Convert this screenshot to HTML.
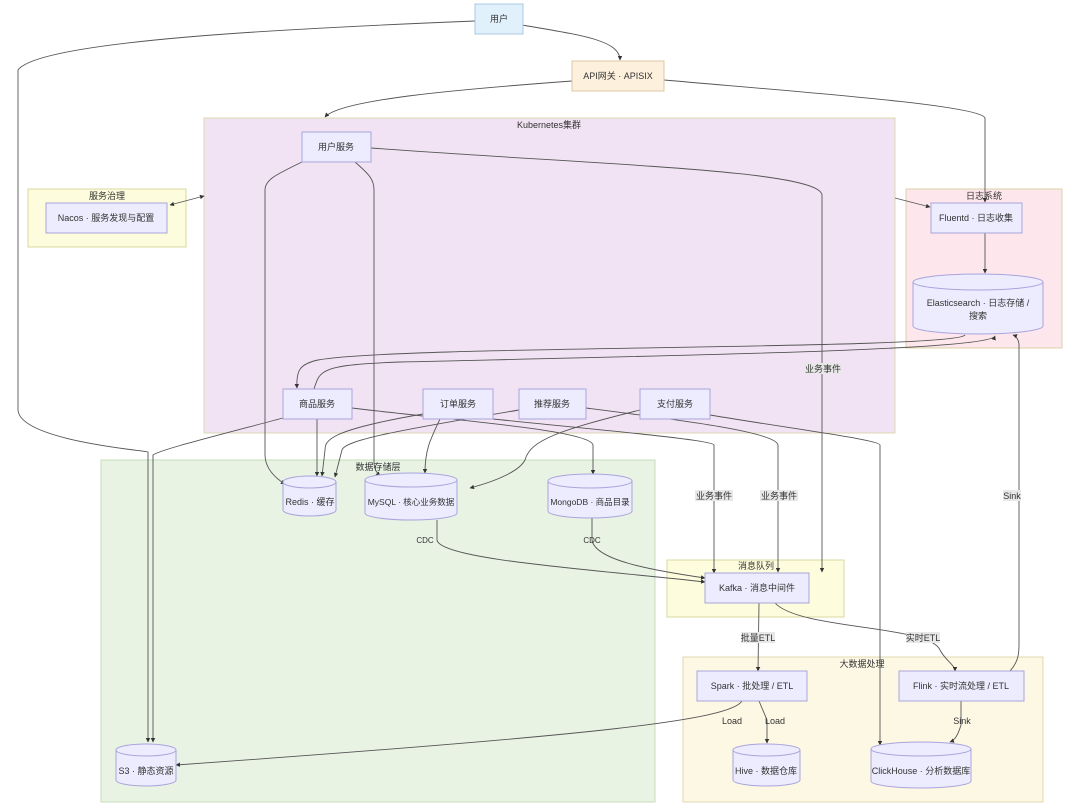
<!DOCTYPE html>
<html><head><meta charset="utf-8"><style>
html,body{margin:0;padding:0;background:#fff;}
svg{display:block;}
text{font-family:"Liberation Sans","Noto Sans CJK SC",sans-serif;font-size:9px;fill:#333;}
.n{fill:#ececfe;stroke:#a9a4dc;stroke-width:1;}
.e{fill:none;stroke:#555;stroke-width:0.9;}
.lb{fill:#e8e8e8;}
</style></head><body>
<svg width="1080" height="806" viewBox="0 0 1080 806" xmlns="http://www.w3.org/2000/svg">
<defs><marker id="a" viewBox="0 0 10 10" refX="9" refY="5" markerWidth="5" markerHeight="5" orient="auto-start-reverse"><path d="M0,0L10,5L0,10z" fill="#333"/></marker></defs>
<!-- clusters -->
<rect x="204" y="118" width="691" height="315" fill="#f1e3f3" stroke="#dcd8b0"/>
<text x="549" y="128" text-anchor="middle">Kubernetes集群</text>
<rect x="28" y="189" width="158" height="58" fill="#fdfddd" stroke="#d8d8a0"/>
<text x="107" y="199" text-anchor="middle">服务治理</text>
<rect x="906" y="189" width="156" height="159" fill="#fde6ec" stroke="#ddd0a8"/>
<text x="984" y="199" text-anchor="middle">日志系统</text>
<rect x="101" y="460" width="554" height="342" fill="#e8f3e4" stroke="#c8dcb8"/>
<text x="378" y="470" text-anchor="middle">数据存储层</text>
<rect x="667" y="560" width="177" height="57" fill="#fdfddd" stroke="#d8d8a0"/>
<text x="756" y="569" text-anchor="middle">消息队列</text>
<rect x="683" y="657" width="360" height="145" fill="#fdf8e4" stroke="#e0d8b0"/>
<text x="862" y="667" text-anchor="middle">大数据处理</text>
<!-- edges -->
<g class="e" marker-end="url(#a)">
<path d="M522,25 C580,35 620,40 620,60"/>
<path d="M475,21 C300,28 40,40 18,70 L18,410 C20,440 140,450 148,452 L148,742"/>
<path d="M572,81 C450,90 340,100 325,117"/>
<path d="M664,80 C800,92 980,105 985,118 L985,202"/>
<path d="M895,198 L930,207"/>
<path d="M204,196 L170,205" marker-start="url(#a)"/>
<path d="M302,162 C275,175 265,180 265,190 L265,455 C265,468 275,478 285,484"/>
<path d="M355,162 C370,175 374,180 374,190 L374,462 C374,470 378,474 380,476"/>
<path d="M371,148 C600,165 820,170 822,195 L822,572"/>
<path d="M985,233 L985,273"/>
<path d="M965,335 C955,350 400,345 318,360 C300,364 296,370 297,388"/>
<path d="M314,389 C320,370 320,365 400,362 C700,355 990,350 995,336"/>
<path d="M283,418 C200,440 160,450 153,455 L153,742"/>
<path d="M317,419 L317,476"/>
<path d="M352,408 C450,420 590,430 593,445 L593,474"/>
<path d="M423,414 C330,430 325,440 325,450 L322,476"/>
<path d="M440,419 C430,440 425,450 425,473"/>
<path d="M519,410 C400,430 345,440 342,450 L335,477"/>
<path d="M493,419 C600,430 714,440 714,445 L714,573"/>
<path d="M586,408 C680,420 776,432 778,445 L778,572"/>
<path d="M640,410 C560,430 530,440 525,460 C520,470 500,480 470,488"/>
<path d="M710,415 C800,430 880,440 880,445 L880,745"/>
<path d="M437,520 L437,540 C440,560 600,570 705,582"/>
<path d="M592,518 L592,540 C595,560 650,570 705,578"/>
<path d="M759,603 L758,671"/>
<path d="M775,603 C800,630 930,625 940,650 C945,660 955,665 955,671"/>
<path d="M1010,671 C1020,660 1019,650 1019,640 L1019,345 C1019,340 1016,336 1013,335"/>
<path d="M742,701 C730,720 600,735 176,765"/>
<path d="M759,701 L767,720 L767,743"/>
<path d="M961,701 L961,725 C958,735 955,740 950,742"/>
</g>
<!-- edge labels -->
<g>
<rect x="804" y="363" width="38" height="11" class="lb"/><text x="823" y="372" text-anchor="middle">业务事件</text>
<rect x="695" y="490" width="38" height="11" class="lb"/><text x="714" y="499" text-anchor="middle">业务事件</text>
<rect x="760" y="490" width="38" height="11" class="lb"/><text x="779" y="499" text-anchor="middle">业务事件</text>
<rect x="1003" y="490" width="18" height="11" class="lb"/><text x="1012" y="499" text-anchor="middle">Sink</text>
<text x="425" y="543" text-anchor="middle" style="font-size:8px">CDC</text>
<text x="592" y="543" text-anchor="middle" style="font-size:8px">CDC</text>
<rect x="741" y="632" width="34" height="11" class="lb"/><text x="758" y="641" text-anchor="middle">批量ETL</text>
<rect x="906" y="632" width="34" height="11" class="lb"/><text x="923" y="641" text-anchor="middle">实时ETL</text>
<text x="732" y="724" text-anchor="middle">Load</text>
<text x="775" y="724" text-anchor="middle">Load</text>
<text x="962" y="724" text-anchor="middle">Sink</text>
</g>
<!-- nodes -->
<rect x="475" y="4" width="48" height="30" fill="#e1f1fb" stroke="#a8c8e0"/><text x="499" y="22" text-anchor="middle">用户</text>
<rect x="572" y="61" width="92" height="30" fill="#fdf1dd" stroke="#dcc8a8"/><text x="618" y="79" text-anchor="middle">API网关 · APISIX</text>
<rect class="n" x="302" y="132" width="69" height="30"/><text x="336" y="150" text-anchor="middle">用户服务</text>
<rect class="n" x="46" y="203" width="121" height="30"/><text x="106" y="221" text-anchor="middle">Nacos · 服务发现与配置</text>
<rect class="n" x="931" y="203" width="91" height="30"/><text x="976" y="221" text-anchor="middle">Fluentd · 日志收集</text>
<rect class="n" x="283" y="389" width="69" height="30"/><text x="317" y="407" text-anchor="middle">商品服务</text>
<rect class="n" x="423" y="389" width="70" height="30"/><text x="458" y="407" text-anchor="middle">订单服务</text>
<rect class="n" x="519" y="389" width="67" height="30"/><text x="552" y="407" text-anchor="middle">推荐服务</text>
<rect class="n" x="640" y="389" width="70" height="30"/><text x="675" y="407" text-anchor="middle">支付服务</text>
<rect class="n" x="705" y="573" width="104" height="30"/><text x="757" y="591" text-anchor="middle">Kafka · 消息中间件</text>
<rect class="n" x="697" y="671" width="110" height="30"/><text x="752" y="689" text-anchor="middle">Spark · 批处理 / ETL</text>
<rect class="n" x="899" y="671" width="125" height="30"/><text x="961" y="689" text-anchor="middle">Flink · 实时流处理 / ETL</text>
<!-- cylinders -->
<g>
<path class="n" d="M913,282 A65,8 0 0 1 1043,282 L1043,326 A65,8 0 0 1 913,326 Z"/><path d="M913,282 A65,8 0 0 0 1043,282" fill="none" stroke="#a9a4dc"/>
<text x="978" y="306" text-anchor="middle">Elasticsearch · 日志存储 /</text><text x="978" y="319" text-anchor="middle">搜索</text>
<path class="n" d="M283,482 A26.5,6 0 0 1 336,482 L336,510 A26.5,6 0 0 1 283,510 Z"/><path d="M283,482 A26.5,6 0 0 0 336,482" fill="none" stroke="#a9a4dc"/>
<text x="310" y="505" text-anchor="middle">Redis · 缓存</text>
<path class="n" d="M365,480 A46,7 0 0 1 457,480 L457,513 A46,7 0 0 1 365,513 Z"/><path d="M365,480 A46,7 0 0 0 457,480" fill="none" stroke="#a9a4dc"/>
<text x="411" y="505" text-anchor="middle" style="font-size:8.5px">MySQL · 核心业务数据</text>
<path class="n" d="M548,481 A42,7 0 0 1 632,481 L632,511 A42,7 0 0 1 548,511 Z"/><path d="M548,481 A42,7 0 0 0 632,481" fill="none" stroke="#a9a4dc"/>
<text x="590" y="505" text-anchor="middle" style="font-size:8.5px">MongoDB · 商品目录</text>
<path class="n" d="M116,750 A30,6 0 0 1 176,750 L176,780 A30,6 0 0 1 116,780 Z"/><path d="M116,750 A30,6 0 0 0 176,750" fill="none" stroke="#a9a4dc"/>
<text x="146" y="774" text-anchor="middle">S3 · 静态资源</text>
<path class="n" d="M733,750 A33.5,6 0 0 1 800,750 L800,780 A33.5,6 0 0 1 733,780 Z"/><path d="M733,750 A33.5,6 0 0 0 800,750" fill="none" stroke="#a9a4dc"/>
<text x="766" y="774" text-anchor="middle">Hive · 数据仓库</text>
<path class="n" d="M871,749 A50,7 0 0 1 971,749 L971,781 A50,7 0 0 1 871,781 Z"/><path d="M871,749 A50,7 0 0 0 971,749" fill="none" stroke="#a9a4dc"/>
<text x="921" y="774" text-anchor="middle">ClickHouse · 分析数据库</text>
</g>
</svg>
</body></html>
